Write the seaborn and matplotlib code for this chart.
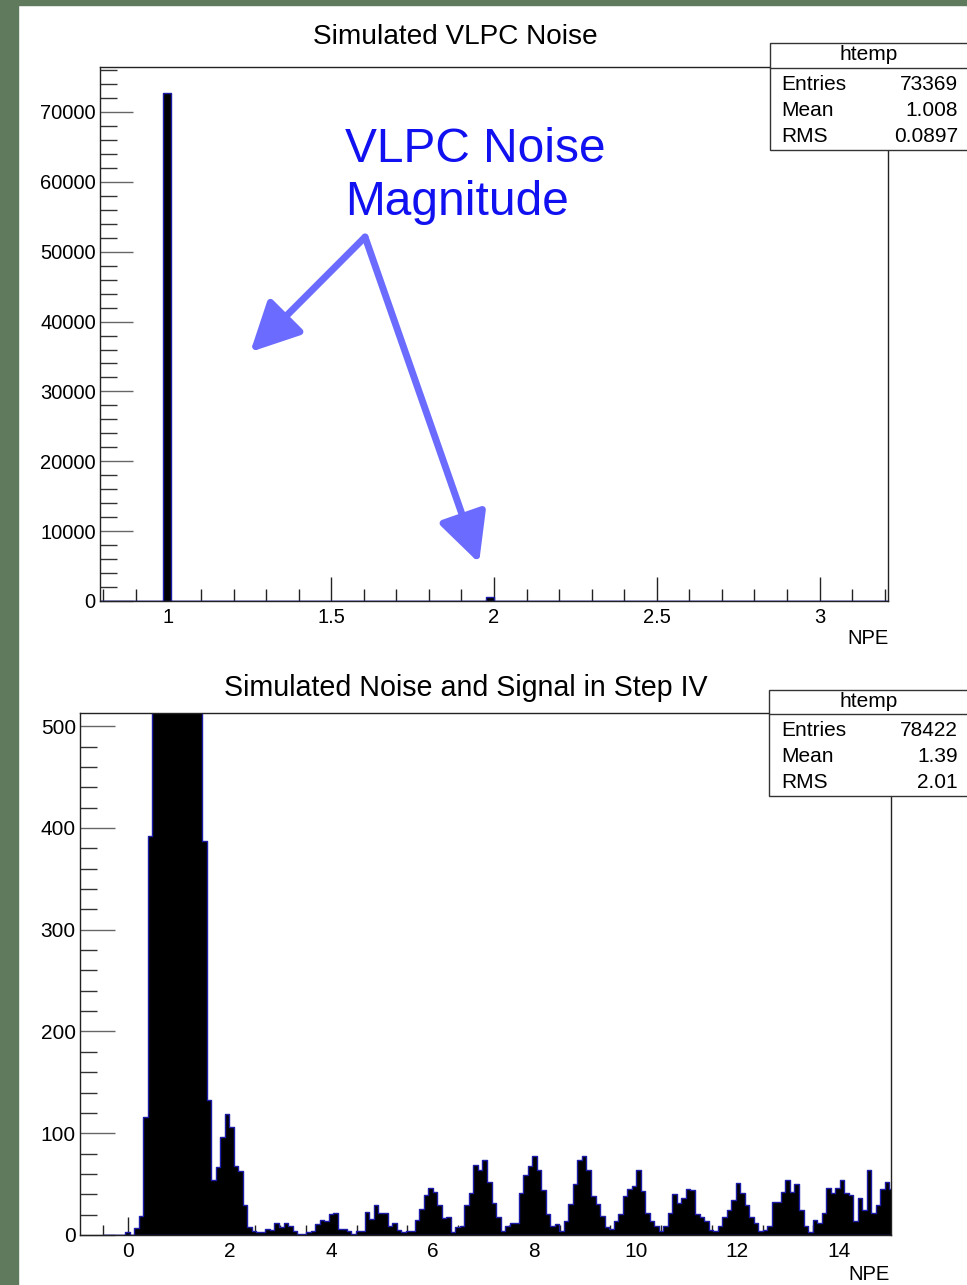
import numpy as np
import pandas as pd
import matplotlib
matplotlib.use("Agg")
import matplotlib.pyplot as plt
from matplotlib.patches import Rectangle
from matplotlib.lines import Line2D
from matplotlib.ticker import MultipleLocator, FormatStrFormatter
import seaborn as sns

# ---------------- data ----------------
# top histogram: simulated VLPC noise (NPE values and entries)
noise_npe = [1.0, 2.0, 3.0]
noise_counts = [72780, 587, 2]
noise_stats = [("Entries", "73369"), ("Mean", "1.008"), ("RMS", "0.0897")]

# bottom histogram: noise + signal, counts per bin (bin width ~0.089 NPE, starting at -0.504)
counts_low = [0, 0, 0, 0, 0, 3, 0, 7, 19, 116, 392]
counts_peak = [1500, 4500, 8500, 11500, 12500, 11000, 9000, 6500, 3800, 2000, 900]
counts_2pe = [387, 133, 54, 67, 96, 119, 106]
counts_2to5 = [68, 63, 29, 8, 4, 3, 3, 6, 5, 12, 8, 12, 9, 4, 1, 1, 3, 4, 11, 15,
               14, 21, 22, 6, 6, 4, 1, 4, 4, 23, 16, 29, 22, 22, 9, 12]
counts_5to9 = [5, 3, 4, 4, 15, 26, 39, 46, 42, 29, 17, 18, 3, 8, 9, 29, 41, 69, 64, 74,
               52, 31, 18, 4, 9, 12, 12, 41, 59, 68, 78, 64, 44, 21, 9, 11, 4, 14]
counts_9to12 = [30, 50, 74, 78, 64, 38, 30, 19, 8, 6, 14, 21, 38, 45, 48, 64, 43, 22, 14, 9,
                4, 9, 22, 40, 31, 36, 45, 44, 21, 18, 14, 5, 4, 9, 18, 25, 34, 51]
counts_12to15 = [41, 29, 18, 12, 4, 5, 9, 32, 32, 42, 54, 42, 50, 25, 9, 3, 15, 12, 22, 46,
                 41, 46, 54, 41, 39, 14, 36, 25, 64, 22, 29, 45, 52, 45]
signal_stats = [("Entries", "78422"), ("Mean", "1.39"), ("RMS", "2.01")]

top_title = "Simulated VLPC Noise"
bottom_title = "Simulated Noise and Signal in Step IV"
x_label = "NPE"
note_text = "VLPC Noise\nMagnitude"

# ---------------- figure ----------------
W, H = 967, 1285
sns.set_style("white")
plt.rcParams["font.family"] = ["Liberation Sans", "DejaVu Sans"]
plt.rcParams["text.color"] = "black"
plt.rcParams["xtick.color"] = "black"
plt.rcParams["ytick.color"] = "black"

fig = plt.figure(figsize=(W / 100, H / 100), dpi=100)
fig.patch.set_facecolor("white")


def fx(px):
    return px / W


def fy(py):
    return 1 - py / H


# slide border (green)
green = "#5f7a5c"
fig.patches.append(Rectangle((0, 0), fx(18), 1, transform=fig.transFigure, color=green, zorder=0))
fig.patches.append(Rectangle((0, fy(5)), 1, 1 - fy(5), transform=fig.transFigure, color=green, zorder=0))

fill_c = "black"
edge_c = "#1c1ca8"


def style_axis(ax, xmaj_len, xmin_len, ymaj_len, ymin_len, lsize):
    ax.tick_params(which="both", bottom=True, left=True, top=False, right=False, direction="in")
    ax.tick_params(axis="x", which="major", length=xmaj_len, width=1, labelsize=lsize, pad=5,
                   color="#222222", labelcolor="black")
    ax.tick_params(axis="x", which="minor", length=xmin_len, width=1, color="#222222")
    ax.tick_params(axis="y", which="major", length=ymaj_len, width=1, labelsize=lsize, pad=3,
                   color="#666666", labelcolor="black")
    ax.tick_params(axis="y", which="minor", length=ymin_len, width=1, color="#333333")
    ax.set_xlabel("")
    ax.set_ylabel("")
    for s in ax.spines.values():
        s.set_color("#222222")
        s.set_linewidth(1)


# ---- top axes ----
ax1 = fig.add_axes([fx(100), fy(601), fx(888) - fx(100), fy(67) - fy(601)])
df1 = pd.DataFrame({"npe": noise_npe, "n": noise_counts})
sns.histplot(data=df1, x="npe", weights="n", bins=100, binrange=(0.7901, 3.2101),
             element="step", fill=True, color=fill_c, alpha=1, edgecolor=edge_c,
             linewidth=1.0, ax=ax1)
ax1.set_xlim(0.79, 3.21)
ax1.set_ylim(0, 76440)
ax1.xaxis.set_major_locator(MultipleLocator(0.5))
ax1.xaxis.set_minor_locator(MultipleLocator(0.1))
ax1.yaxis.set_major_locator(MultipleLocator(10000))
ax1.yaxis.set_minor_locator(MultipleLocator(2000))
ax1.xaxis.set_major_formatter(FormatStrFormatter("%g"))
ax1.yaxis.set_major_formatter(FormatStrFormatter("%d"))
style_axis(ax1, 17, 9, 24, 12, 14.5)

# annotation arrows
arrow_c = "#6b6bff"
for end in [(1.2515, 35640), (1.954, 5440)]:
    ax1.annotate("", xy=end, xytext=(1.604, 52100), xycoords="data",
                 arrowprops=dict(arrowstyle="-|>,head_length=0.4,head_width=0.2",
                                 color=arrow_c, lw=5, mutation_scale=75,
                                 shrinkA=0, shrinkB=0))
fig.text(fx(345), fy(127), note_text, color="#1010f0", fontsize=34.5, ha="left", va="top",
         linespacing=1.22)

# ---- bottom axes ----
ax2 = fig.add_axes([fx(80), fy(1235), fx(891) - fx(80), fy(713) - fy(1235)])
counts2 = counts_low + counts_peak + counts_2pe + counts_2to5 + counts_5to9 + counts_9to12 + counts_12to15
n2 = len(counts2)
bin_lo, bin_w = -0.504, 0.0891
centers2 = bin_lo + bin_w * (np.arange(n2) + 0.5)
df2 = pd.DataFrame({"npe": centers2, "n": counts2})
sns.histplot(data=df2, x="npe", weights="n", bins=n2, binrange=(bin_lo, bin_lo + n2 * bin_w),
             element="step", fill=True, color=fill_c, alpha=1, edgecolor=edge_c,
             linewidth=1.0, ax=ax2)
ax2.set_xlim(-0.95, 15.03)
ax2.set_ylim(0, 513)
ax2.xaxis.set_major_locator(MultipleLocator(2))
ax2.xaxis.set_minor_locator(MultipleLocator(0.5))
ax2.yaxis.set_major_locator(MultipleLocator(100))
ax2.yaxis.set_minor_locator(MultipleLocator(20))
ax2.xaxis.set_major_formatter(FormatStrFormatter("%d"))
ax2.yaxis.set_major_formatter(FormatStrFormatter("%d"))
style_axis(ax2, 13, 7, 25, 12, 15)

# titles and axis labels
fig.text(fx(455), fy(37), top_title, fontsize=20.2, ha="center", va="center", color="black")
fig.text(fx(466), fy(688), bottom_title, fontsize=20.6, ha="center", va="center", color="black")
fig.text(fx(889), fy(638), x_label, fontsize=14.5, ha="right", va="center", color="black")
fig.text(fx(890), fy(1274), x_label, fontsize=14.5, ha="right", va="center", color="black")


# stats boxes
def stats_box(x0, y0, y1, ydiv, rows_y, title_y, rows):
    fig.patches.append(Rectangle((fx(x0), fy(y1)), fx(975) - fx(x0), fy(y0) - fy(y1),
                                 transform=fig.transFigure, facecolor="white",
                                 edgecolor="#333333", linewidth=1, zorder=5))
    fig.lines.append(Line2D([fx(x0), 1], [fy(ydiv), fy(ydiv)], transform=fig.transFigure,
                            color="#333333", linewidth=1, zorder=6))
    fig.text(fx(869), fy(title_y), "htemp", fontsize=15, ha="center", va="center", zorder=7,
             color="black")
    for (lab, val), yy in zip(rows, rows_y):
        fig.text(fx(781), fy(yy), lab, fontsize=15, ha="left", va="center", zorder=7, color="black")
        fig.text(fx(958), fy(yy), val, fontsize=15, ha="right", va="center", zorder=7, color="black")


stats_box(770, 43, 150, 68, [84, 110, 137], 55, noise_stats)
stats_box(769, 690, 796, 714, [730, 756, 782], 702, signal_stats)

fig.savefig("out.png", dpi=100, facecolor="white")
